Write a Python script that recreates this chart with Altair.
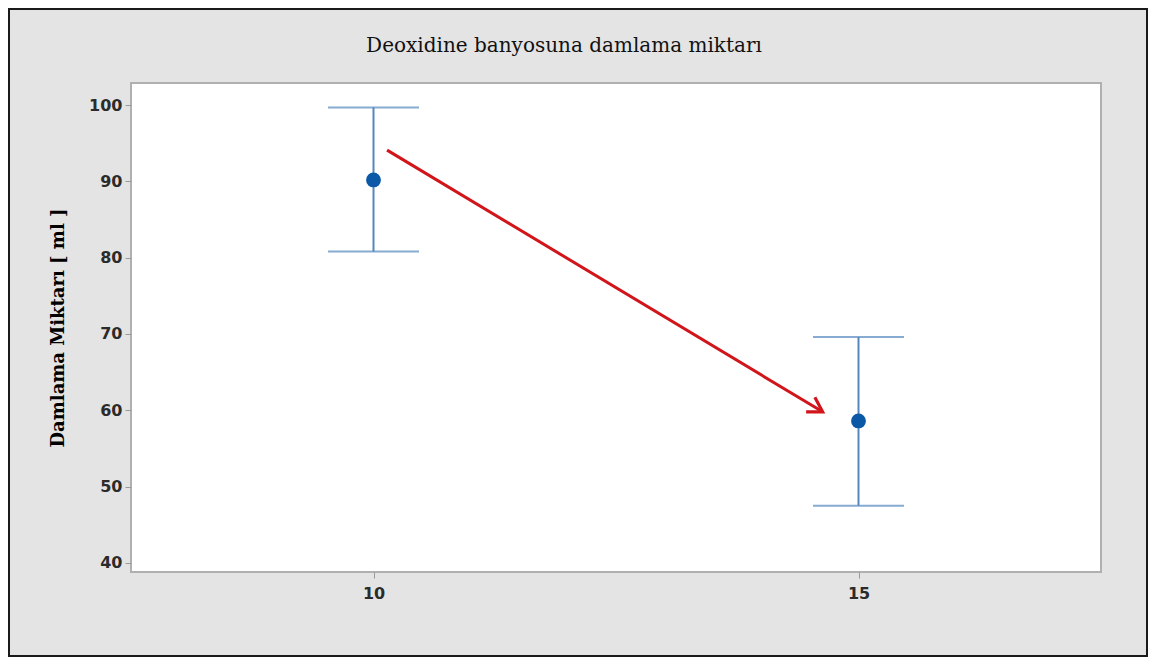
import altair as alt
import pandas as pd
import math

# ---- data ----
x_levels = [10, 15]
means = [90.2, 58.6]
upper = [99.7, 69.6]
lower = [80.8, 47.5]

arrow_x = [10.14]
arrow_y = [94.1]
arrow_x2 = [14.63]
arrow_y2 = [59.8]

y_ticks = [40, 50, 60, 70, 80, 90, 100]
x_ticks = [10, 15]

title_text = "Deoxidine banyosuna damlama miktarı"
y_title = "Damlama Miktarı [ ml ]"

# ---- layout ----
W, H = 970, 489
x_dom = [7.5, 17.5]
y_dom = [38.8, 102.9]

df = pd.DataFrame({"x": x_levels, "mean": means, "hi": upper, "lo": lower})
arrow_df = pd.DataFrame({"x": arrow_x, "y": arrow_y, "x2": arrow_x2, "y2": arrow_y2})

xs = alt.Scale(domain=x_dom, nice=False, zero=False)
ys = alt.Scale(domain=y_dom, nice=False, zero=False)

bar_color = "#5487bd"
pt_color = "#0b58a6"
red = "#d0161b"

X = alt.X("x:Q", scale=xs, axis=alt.Axis(values=x_ticks, title=None, format="d"))
Y = alt.Y("mean:Q", scale=ys,
          axis=alt.Axis(values=y_ticks, title=y_title, format="d"))

rules = alt.Chart(df).mark_rule(color=bar_color, strokeWidth=2).encode(
    x=X, y=alt.Y("lo:Q", scale=ys), y2="hi:Q")
cap_hi = alt.Chart(df).mark_tick(color=bar_color, orient="horizontal", size=91, thickness=2).encode(
    x=alt.X("x:Q", scale=xs), y=alt.Y("hi:Q", scale=ys))
cap_lo = alt.Chart(df).mark_tick(color=bar_color, orient="horizontal", size=91, thickness=2).encode(
    x=alt.X("x:Q", scale=xs), y=alt.Y("lo:Q", scale=ys))
points = alt.Chart(df).mark_circle(color=pt_color, size=220, opacity=1).encode(x=X, y=Y)

arrow_line = alt.Chart(arrow_df).mark_rule(color=red, strokeWidth=3, strokeCap="butt").encode(
    x=alt.X("x:Q", scale=xs), y=alt.Y("y:Q", scale=ys), x2="x2:Q", y2="y2:Q")

# arrowhead angle from the pixel-space direction of the arrow
dxp = (arrow_x2[0] - arrow_x[0]) * W / (x_dom[1] - x_dom[0])
dyp = (arrow_y[0] - arrow_y2[0]) * H / (y_dom[1] - y_dom[0])
ang = math.degrees(math.atan2(dyp, dxp))

arrow_head = alt.Chart(arrow_df).mark_point(
    shape="M -1 -0.6 L 0 0 L -1 0.6", filled=False, stroke=red, strokeWidth=3.2,
    size=800, angle=ang, opacity=1, strokeJoin="miter").encode(
    x=alt.X("x2:Q", scale=xs), y=alt.Y("y2:Q", scale=ys))

frame = alt.Chart(alt.Data(values=[{}])).mark_rect(
    fillOpacity=0, stroke="#1a1a1a", strokeWidth=2).encode(
    x=alt.value(-122), x2=alt.value(1016), y=alt.value(-74), y2=alt.value(573))

title_mark = alt.Chart(alt.Data(values=[{"t": title_text}])).mark_text(
    font="DejaVu Serif", fontSize=20, color="#111111", align="center", baseline="middle").encode(
    text="t:N", x=alt.value(433), y=alt.value(-37))

chart = alt.layer(rules, cap_hi, cap_lo, points, arrow_line, arrow_head, frame, title_mark).properties(
    width=W, height=H,
    background="#e4e4e4",
    padding={"left": 123, "top": 75, "right": 47, "bottom": 85},
    autosize=alt.AutoSizeParams(type="none"),
).configure_view(
    stroke="#b0b0b0", strokeWidth=2, fill="white"
).configure_axis(
    domain=False, grid=False, tickColor="#9a9a9a", tickSize=6, tickWidth=1,
    labelFont="DejaVu Sans", labelFontWeight="bold", labelFontSize=16, labelColor="#2b2b2b",
    labelPadding=3,
).configure_axisY(
    titleFont="DejaVu Serif", titleFontWeight="bold", titleFontSize=18, titleColor="#000000",
    titlePadding=21,
).configure_axisX(labelPadding=7)

chart.save("out.html", embed_options={"renderer": "svg", "actions": False})
